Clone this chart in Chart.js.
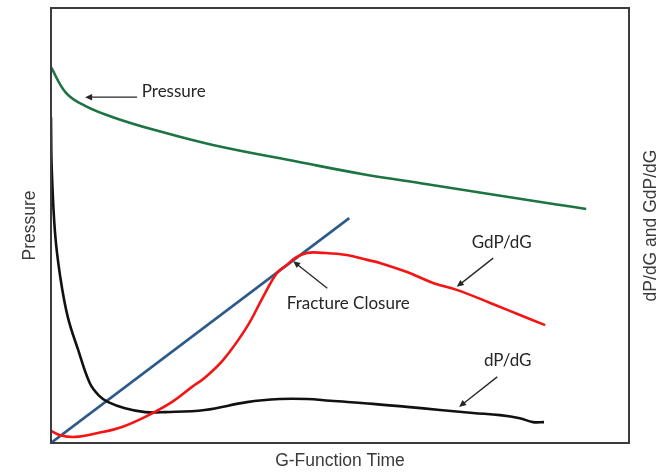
<!DOCTYPE html>
<html>
<head>
<meta charset="utf-8">
<script src="https://cdn.jsdelivr.net/npm/chart.js@4"></script>
<style>
html,body{margin:0;padding:0;background:#fff;}
#wrap{width:666px;height:472px;position:relative;}
</style>
</head>
<body>
<div id="wrap"><canvas id="c" width="666" height="472"></canvas></div>
<script>
// G-function time (arbitrary units 0..100) and values (relative 0..100)
const pressureG = [0, 2.6, 5.9, 10.7, 17.8, 28.0, 42.9, 54.0, 65.1, 76.1, 87.2, 92.6];
const pressureV = [86.4, 80.5, 77.5, 74.9, 72.0, 68.5, 64.6, 61.8, 59.5, 57.2, 54.9, 53.8];

const dpdgG = [0, 0.12, 0.7, 1.6, 2.9, 4.7, 6.7, 8.3, 9.9, 12.8, 16.3, 19.7, 26.6, 33.9, 39.6, 44.3, 48.3, 55.7, 61.6, 67.3, 73.0, 77.7, 81.1, 83.4, 85.3];
const dpdgV = [74.9, 63.4, 48.3, 38.2, 29.0, 21.4, 13.8, 10.9, 9.4, 8.0, 7.1, 7.1, 7.6, 9.4, 10.1, 10.1, 9.7, 9.0, 8.3, 7.6, 6.9, 6.4, 5.7, 4.8, 4.8];

const gdpdgG = [0, 1.6, 4.2, 8.1, 12.3, 16.3, 20.9, 24.4, 26.5, 29.8, 33.9, 36.7, 39.1, 40.8, 42.2, 44.3, 47.1, 51.2, 54.7, 56.9, 61.6, 66.1, 70.2, 76.0, 80.6, 85.5];
const gdpdgV = [2.8, 1.8, 1.4, 2.3, 3.7, 6.0, 9.4, 12.9, 14.9, 19.1, 26.7, 33.6, 39.1, 40.9, 42.5, 43.7, 43.7, 43.2, 42.1, 41.4, 39.3, 36.8, 35.2, 32.2, 29.7, 27.1];

const tangentG = [0, 51.6];
const tangentV = [0, 51.7];

// annotations: label, label anchor (left, middle), arrow tail, arrow head
const noteText  = ['Pressure', 'Fracture Closure', 'GdP/dG', 'dP/dG'];
const noteX     = [15.7, 40.8, 72.8, 74.9];
const noteY     = [80.9, 32.0, 46.0, 18.9];
const tailX     = [14.9, 47.8, 76.5, 77.2];
const tailY     = [79.5, 35.6, 42.5, 15.2];
const headX     = [5.9, 41.9, 70.2, 70.6];
const headY     = [79.5, 41.8, 35.9, 8.3];

const xTitle = 'G-Function Time';
const yTitle = 'Pressure';
const y2Title = 'dP/dG and GdP/dG';

const pts = (xs, ys) => xs.map((x, i) => ({x: x, y: ys[i]}));

const overlay = {
  id: 'overlay',
  afterDatasetsDraw(chart) {
    const ctx = chart.ctx;
    const xs = chart.scales.x, ys = chart.scales.y;
    const a = chart.chartArea;
    ctx.save();
    ctx.strokeStyle = '#3c3c3c';
    ctx.lineWidth = 2;
    ctx.strokeRect(a.left, a.top, a.right - a.left, a.bottom - a.top);
    ctx.fillStyle = '#3a3a3a';
    ctx.font = '17.5px "Liberation Sans", Arial, sans-serif';
    ctx.textAlign = 'center';
    ctx.textBaseline = 'middle';
    ctx.translate(651, (a.top + a.bottom) / 2);
    ctx.rotate(-Math.PI / 2);
    ctx.fillText(y2Title, 0, 0);
    ctx.restore();

    ctx.save();
    ctx.font = '17px Lato, "Open Sans", sans-serif';
    ctx.textAlign = 'left';
    ctx.textBaseline = 'middle';
    ctx.fillStyle = '#262626';
    ctx.strokeStyle = '#262626';
    for (let i = 0; i < noteText.length; i++) {
      ctx.fillText(noteText[i], xs.getPixelForValue(noteX[i]), ys.getPixelForValue(noteY[i]));
      const x1 = xs.getPixelForValue(tailX[i]), y1 = ys.getPixelForValue(tailY[i]);
      const x2 = xs.getPixelForValue(headX[i]), y2 = ys.getPixelForValue(headY[i]);
      const ang = Math.atan2(y2 - y1, x2 - x1);
      const L = 7, W = 3.2;
      ctx.lineWidth = 1.3;
      ctx.beginPath();
      ctx.moveTo(x1, y1);
      ctx.lineTo(x2 - Math.cos(ang) * L * 0.8, y2 - Math.sin(ang) * L * 0.8);
      ctx.stroke();
      ctx.beginPath();
      ctx.moveTo(x2, y2);
      ctx.lineTo(x2 - Math.cos(ang) * L - Math.sin(ang) * W, y2 - Math.sin(ang) * L + Math.cos(ang) * W);
      ctx.lineTo(x2 - Math.cos(ang) * L + Math.sin(ang) * W, y2 - Math.sin(ang) * L - Math.cos(ang) * W);
      ctx.closePath();
      ctx.fill();
    }
    ctx.restore();
  }
};

const lineDs = (label, data, color, tension) => ({
  label: label,
  data: data,
  borderColor: color,
  backgroundColor: color,
  borderWidth: 2.6,
  pointRadius: 0,
  fill: false,
  tension: tension
});

new Chart(document.getElementById('c'), {
  type: 'line',
  data: {
    datasets: [
      lineDs('GdP/dG', pts(gdpdgG, gdpdgV), '#f51414', 0.4),
      lineDs('dP/dG', pts(dpdgG, dpdgV), '#111111', 0.4),
      lineDs('Pressure', pts(pressureG, pressureV), '#1d7443', 0.4),
      lineDs('Tangent', pts(tangentG, tangentV), '#2e5a8a', 0)
    ]
  },
  options: {
    responsive: false,
    animation: false,
    layout: {padding: {left: 0, right: 37, top: 8, bottom: 0}},
    plugins: {legend: {display: false}, tooltip: {enabled: false}},
    scales: {
      x: {
        type: 'linear', min: 0, max: 100,
        grid: {display: false, drawTicks: false},
        border: {display: false},
        ticks: {display: false},
        title: {display: true, text: xTitle, color: '#3a3a3a',
                font: {family: '"Liberation Sans", Arial, sans-serif', size: 17.5},
                padding: {top: 8, bottom: 0}}
      },
      y: {
        type: 'linear', min: 0, max: 100,
        grid: {display: false, drawTicks: false},
        border: {display: false},
        ticks: {display: false},
        title: {display: true, text: yTitle, color: '#3a3a3a',
                font: {family: '"Liberation Sans", Arial, sans-serif', size: 17.5},
                padding: {top: 20, bottom: 10}}
      }
    }
  },
  plugins: [overlay]
});
</script>
</body>
</html>
